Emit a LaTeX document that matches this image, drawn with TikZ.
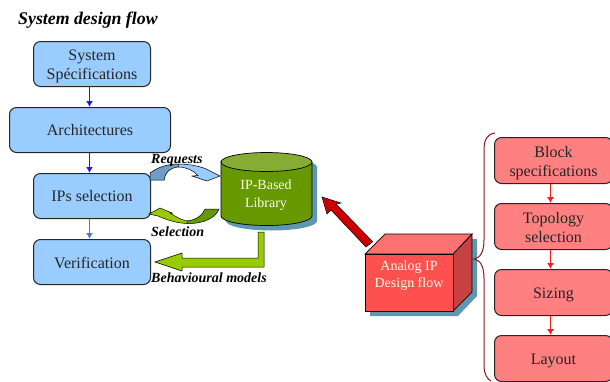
\documentclass[tikz,border=0pt]{standalone}
\usepackage{fontspec}
\setmainfont{Liberation Serif}
\usetikzlibrary{arrows.meta}
\definecolor{bluebox}{HTML}{99CCFF}
\definecolor{redbox}{HTML}{FF8080}
\definecolor{shadowc}{HTML}{5F97B0}
\definecolor{cyl}{HTML}{669900}
\definecolor{cyltop}{HTML}{85AD33}
\definecolor{lime}{HTML}{99CC00}
\definecolor{reqc}{HTML}{6F9CC8}
\definecolor{darkred}{HTML}{8B1A1A}
\definecolor{softb}{HTML}{4A78D0}
\definecolor{boxfront}{HTML}{FF5050}
\definecolor{boxtop}{HTML}{FF7070}
\definecolor{boxside}{HTML}{C84040}
\definecolor{brightblue}{HTML}{1A1AFF}
\definecolor{brightred}{HTML}{FF1A1A}
\newcommand{\lowr}{\rule{0pt}{16pt}}
\tikzset{
  flowbox/.style={draw=black!85,line width=1pt,rounded corners=7pt,anchor=north west,inner sep=0pt,align=center,font=\fontsize{16}{19}\selectfont,text=black!85},
  bluenode/.style={flowbox,fill=bluebox},
  rednode/.style={flowbox,fill=redbox},
  bluearrow/.style={draw=brightblue,fill=brightblue,line width=1.6pt,-{Latex[length=6pt,width=7pt]}},
  softarrow/.style={draw=softb,fill=softb,line width=1.6pt,-{Latex[length=6pt,width=7pt]}},
  redarrow/.style={draw=brightred,fill=brightred,line width=1.6pt,-{Latex[length=6pt,width=7pt]}},
  lbl/.style={font=\fontsize{14}{17}\selectfont\bfseries\itshape,inner sep=0pt,text=black},
  lighttext/.style={font=\fontsize{14}{17.5}\selectfont,align=center,text=white!92!yellow,inner sep=0pt},
  outlined/.style={draw=black,line width=0.7pt,line join=miter},
  thinline/.style={draw=black,line width=0.5pt}
}
\begin{document}
\begin{tikzpicture}[x=1pt,y=-1pt]
\useasboundingbox (0,0) rectangle (610,381);
\node[lbl,anchor=west,font=\fontsize{17.8}{19}\selectfont\bfseries\itshape] (title) at (18,20) {System design flow};
% left flow
\node[bluenode,minimum width=117pt,minimum height=45pt] (sys) at (33,41) {\lowr System\\Spécifications};
\node[bluenode,minimum width=161pt,minimum height=45pt] (arch) at (9,107) {Architectures};
\node[bluenode,minimum width=117pt,minimum height=45pt] (ips) at (33,173) {IPs selection};
\node[bluenode,minimum width=117pt,minimum height=45pt] (ver) at (33,239) {\rule{0pt}{13pt}Verification};
\draw[bluearrow] ([xshift=-2.5pt]sys.south) -- ([xshift=-2.5pt]sys.south |- arch.north);
\draw[bluearrow] ([xshift=-0.5pt]arch.south) -- ([xshift=-0.5pt]arch.south |- ips.north);
\draw[softarrow] ([xshift=-2.5pt]ips.south) -- ([xshift=-2.5pt]ips.south |- ver.north);
% cylinder
\fill[shadowc] (226,167) arc[x radius=45.5,y radius=9.5,start angle=180,end angle=360] -- (317,221) arc[x radius=45.5,y radius=9.5,start angle=0,end angle=180] -- cycle;
\draw[outlined,fill=cyl] (221,162) -- (221,216) arc[x radius=45.5,y radius=9.5,start angle=180,end angle=0] -- (312,162) -- cycle;
\draw[outlined,fill=cyltop] (266.5,162) ellipse[x radius=45.5,y radius=9.5];
\node[lighttext] (lib) at (266,195) {IP-Based\\Library};
% requests arrow
\draw[thinline,fill=bluebox] (178,164) .. controls (188,164) and (203,166) .. (212,172) -- (220,176) -- (207,181) -- (192,176) -- (198,175.5) .. controls (193,170) and (186,167) .. (178,167) -- cycle;
\draw[thinline,fill=reqc] (150,180) -- (150,173) .. controls (158,167) and (168,164) .. (178,164) -- (178,167) .. controls (170,168) and (165,172) .. (164.3,180) -- cycle;
% selection arrow
\draw[thinline,fill=cyl] (219,209) -- (205,209) .. controls (203,215) and (196,220) .. (187,221) -- (187,223.5) .. controls (205,224) and (216,217) .. (219,209) -- cycle;
\draw[thinline,fill=lime] (187,223.5) .. controls (175,223) and (165,219) .. (158,216) -- (149,214) -- (160,208) -- (172,213) -- (170,213) .. controls (176,217) and (182,220) .. (187,221) -- cycle;
\node[lbl,anchor=west] (req) at (151,160) {Requests};
\node[lbl,anchor=west] (sel) at (151,232) {Selection};
\node[lbl,anchor=west] (beh) at (151,278) {Behavioural models};
% L arrow
\draw[thinline,fill=lime] (258,232) -- (264,232) -- (264,267) -- (182,267) -- (182,271) -- (155,262) -- (182,253) -- (182,258) -- (258,258) -- cycle;
% red arrow
\draw[thinline,fill=red!80!black] (372.7,241.7) -- (366,247) -- (331,210) -- (327,214) -- (322,197) -- (341,203) -- (336,204) -- cycle;
% 3D box
\fill[shadowc] (370,316) -- (370,259) -- (390,239) -- (477,239) -- (477,296) -- (458,316) -- cycle;
\draw[outlined,fill=boxside] (453,254) -- (472,234) -- (472,292) -- (453,311) -- cycle;
\draw[outlined,fill=boxtop] (365,254) -- (385,234) -- (472,234) -- (453,254) -- cycle;
\draw[outlined,fill=boxfront] (365,254) rectangle (453,311);
\node[lighttext] (analog) at (409,275.5) {Analog IP\\Design flow};
% brace
\draw[darkred,line width=1pt] (495,133) .. controls (487,134) and (484,140) .. (484,150) -- (484,240) .. controls (484,252) and (480,258) .. (474,259) .. controls (480,260) and (484,266) .. (484,278) -- (484,365) .. controls (484,374) and (487,379) .. (491,381);
% right flow
\node[rednode,minimum width=118pt,minimum height=46pt] (blk) at (494,137) {\lowr Block\\specifications};
\node[rednode,minimum width=118pt,minimum height=46pt] (top) at (494,203) {\rule{0pt}{13pt}Topology\\selection};
\node[rednode,minimum width=118pt,minimum height=46pt] (siz) at (494,269) {\lowr Sizing};
\node[rednode,minimum width=118pt,minimum height=46pt] (lay) at (494,335) {\lowr Layout};
\draw[redarrow] ([xshift=-3pt]blk.south) -- ([xshift=-3pt]blk.south |- top.north);
\draw[redarrow] ([xshift=-3pt]top.south) -- ([xshift=-3pt]top.south |- siz.north);
\draw[redarrow] ([xshift=-3pt]siz.south) -- ([xshift=-3pt]siz.south |- lay.north);
\end{tikzpicture}
\end{document}
